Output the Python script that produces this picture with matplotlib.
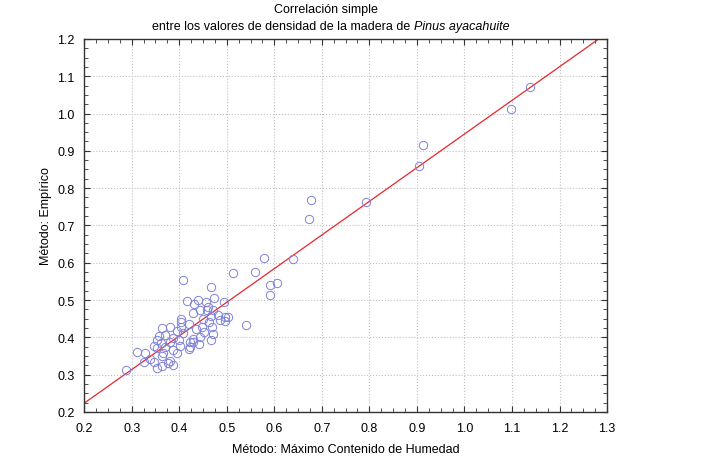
import matplotlib
matplotlib.use("Agg")
import matplotlib.pyplot as plt
import numpy as np
from matplotlib.ticker import MultipleLocator

plt.rcParams['font.family'] = ['Liberation Sans', 'DejaVu Sans']

# Máximo Contenido de Humedad (x) vs Empírico (y)
humedad = [0.579, 0.513, 0.560, 0.409, 0.592, 0.605, 0.592, 0.467, 0.416, 0.440,
           0.432, 0.456, 0.474, 0.494, 0.461, 0.444, 0.430, 0.458, 0.472, 0.481,
           0.496, 0.503, 0.496, 0.466, 0.485, 0.451, 0.463, 0.540, 0.404, 0.420,
           0.404, 0.381, 0.364, 0.395, 0.409, 0.436, 0.448, 0.469, 0.453, 0.471,
           0.443, 0.429, 0.430, 0.466, 0.441, 0.423, 0.421, 0.400, 0.388, 0.371,
           0.358, 0.353, 0.362, 0.381, 0.402, 0.371, 0.387, 0.395, 0.353, 0.348,
           0.365, 0.364, 0.311, 0.329, 0.339, 0.327, 0.289, 0.348, 0.353, 0.364,
           0.376, 0.387, 0.380, 0.404, 0.423,
           1.138, 1.098, 0.912, 0.904, 0.792, 0.678, 0.672, 0.640]
empirico = [0.614, 0.573, 0.575, 0.555, 0.539, 0.547, 0.514, 0.536, 0.497, 0.500,
            0.489, 0.494, 0.506, 0.496, 0.482, 0.473, 0.465, 0.472, 0.472, 0.460,
            0.455, 0.455, 0.445, 0.457, 0.447, 0.449, 0.441, 0.434, 0.449, 0.436,
            0.428, 0.429, 0.426, 0.418, 0.412, 0.423, 0.427, 0.427, 0.415, 0.409,
            0.400, 0.396, 0.387, 0.393, 0.382, 0.375, 0.369, 0.393, 0.399, 0.407,
            0.403, 0.394, 0.385, 0.387, 0.378, 0.373, 0.367, 0.357, 0.371, 0.378,
            0.358, 0.351, 0.362, 0.357, 0.342, 0.333, 0.313, 0.333, 0.317, 0.323,
            0.331, 0.326, 0.336, 0.442, 0.387,
            1.071, 1.012, 0.916, 0.860, 0.763, 0.768, 0.717, 0.610]

# regression line
intercept = 0.043
slope = 0.902

fig = plt.figure(figsize=(7.01, 4.64), dpi=100)
ax = fig.add_axes([0.120, 0.110, 0.746, 0.804])

ax.plot(humedad, empirico, 'o', ms=6, mfc='none', mec='#7f82d8', mew=0.7, zorder=3)
xl = np.array([0.2, 1.3])
ax.plot(xl, intercept + slope * xl, color='#e8262e', lw=0.9, zorder=2)

ax.set_xlim(0.2, 1.3)
ax.set_ylim(0.2, 1.2)
ax.xaxis.set_major_locator(MultipleLocator(0.1))
ax.yaxis.set_major_locator(MultipleLocator(0.1))
ax.xaxis.set_minor_locator(MultipleLocator(0.025))
ax.yaxis.set_minor_locator(MultipleLocator(0.025))
ax.xaxis.set_major_formatter(lambda v, p: f"{v:.1f}")
ax.yaxis.set_major_formatter(lambda v, p: f"{v:.1f}")
ax.tick_params(which='both', direction='in', top=True, right=True, color='#333333')
ax.tick_params(which='major', length=4, width=0.8, pad=7, labelsize=9)
ax.tick_params(which='minor', length=3, width=0.6)
ax.grid(True, which='major', ls=':', lw=0.8, color='#c0c0c0')
for s in ax.spines.values():
    s.set_color('#333333')
    s.set_linewidth(1.0)

ax.set_xlabel("Método: Máximo Contenido de Humedad", fontsize=9, labelpad=7)
ax.set_ylabel("Método: Empírico", fontsize=9)
ax.yaxis.set_label_coords(-0.061, 0.528)

fig.text(326 / 701, 1 - 10 / 464, "Correlación simple", ha='center', va='center', fontsize=9)
fig.text(410 / 701, 1 - 27 / 464, "entre los valores de densidad de la madera de",
         ha='right', va='center', fontsize=9)
fig.text(414 / 701, 1 - 27 / 464, "Pinus ayacahuite", ha='left', va='center',
         fontsize=9, style='italic')

fig.savefig("out.png", dpi=100)
